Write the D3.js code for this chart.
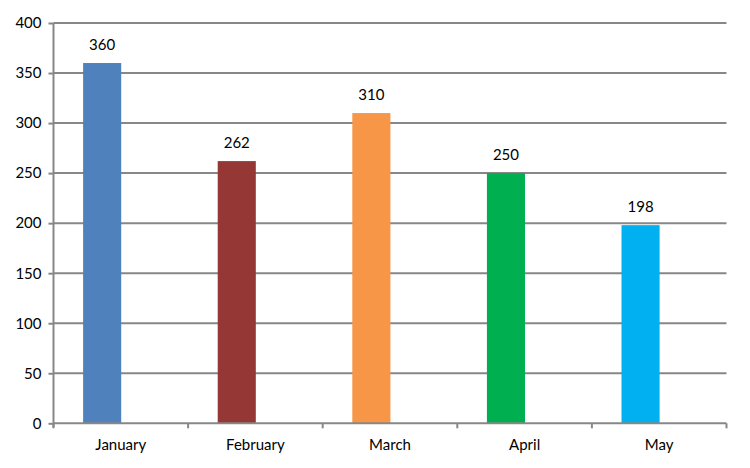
<!DOCTYPE html>
<html><head><meta charset="utf-8">
<script src="https://cdn.jsdelivr.net/npm/d3@7"></script>
<style>body{margin:0;background:#fff}svg{display:block}text{font-family:Lato,"Open Sans",sans-serif;fill:#000}</style>
</head><body><svg id="c" width="750" height="468"></svg>
<script>
const categories = ["January","February","March","April","May"];
const values = [360,262,310,250,198];
const colors = ["#4F81BD","#953735","#F79646","#00B050","#00B0F0"];
const yTicks = [0,50,100,150,200,250,300,350,400];

(function(){
const svg = d3.select("#c");
const pl = 53.5, pr = 726.5, pt = 23, pb = 423.3;
const fs = 15;
const x = d3.scaleBand().domain(categories).range([pl,pr]).padding(0);
const y = d3.scaleLinear().domain([0,400]).range([pb,pt]);
const grid = "#878787";

svg.append("g").selectAll("line").data(yTicks.filter(d=>d>0)).join("line")
  .attr("x1",pl).attr("x2",pr).attr("y1",d=>y(d)).attr("y2",d=>y(d))
  .attr("stroke",grid).attr("stroke-width",2);

const bw = x.bandwidth();
svg.append("g").selectAll("rect").data(values).join("rect")
  .attr("x",(d,i)=>x(categories[i])+bw*0.22)
  .attr("width",bw*0.283)
  .attr("y",d=>y(d)).attr("height",d=>y(0)-y(d))
  .attr("fill",(d,i)=>colors[i]);

svg.append("g").selectAll("text").data(values).join("text")
  .attr("x",(d,i)=>x(categories[i])+bw*0.22+bw*0.283/2)
  .attr("y",d=>y(d)-13)
  .attr("text-anchor","middle").attr("font-size",fs).text(d=>d);

const yAxis = d3.axisLeft(y).tickValues(yTicks).tickSize(5).tickPadding(7);
const gy = svg.append("g").attr("transform",`translate(${pl},0)`).call(yAxis);
gy.select(".domain").attr("stroke",grid).attr("stroke-width",2).attr("d",`M0,${pt}V${pb+4}`);
gy.selectAll(".tick line").attr("stroke",grid).attr("stroke-width",2);
gy.selectAll(".tick text").attr("font-size",fs).attr("font-family","Lato,'Open Sans',sans-serif").attr("fill","#000");

const xAxis = d3.axisBottom(x).tickSize(0).tickPadding(16);
const gx = svg.append("g").attr("transform",`translate(0,${pb})`).call(xAxis);
gx.select(".domain").attr("stroke",grid).attr("stroke-width",2).attr("d",`M${pl},0H${pr}`);
gx.selectAll(".tick text").attr("font-size",fs).attr("font-family","Lato,'Open Sans',sans-serif").attr("fill","#000");
const bounds = categories.map(c=>x(c)).concat([pr]);
gx.append("g").selectAll("line").data(bounds).join("line")
  .attr("x1",d=>d).attr("x2",d=>d).attr("y1",0).attr("y2",5)
  .attr("stroke",grid).attr("stroke-width",2);
})();
</script></body></html>
